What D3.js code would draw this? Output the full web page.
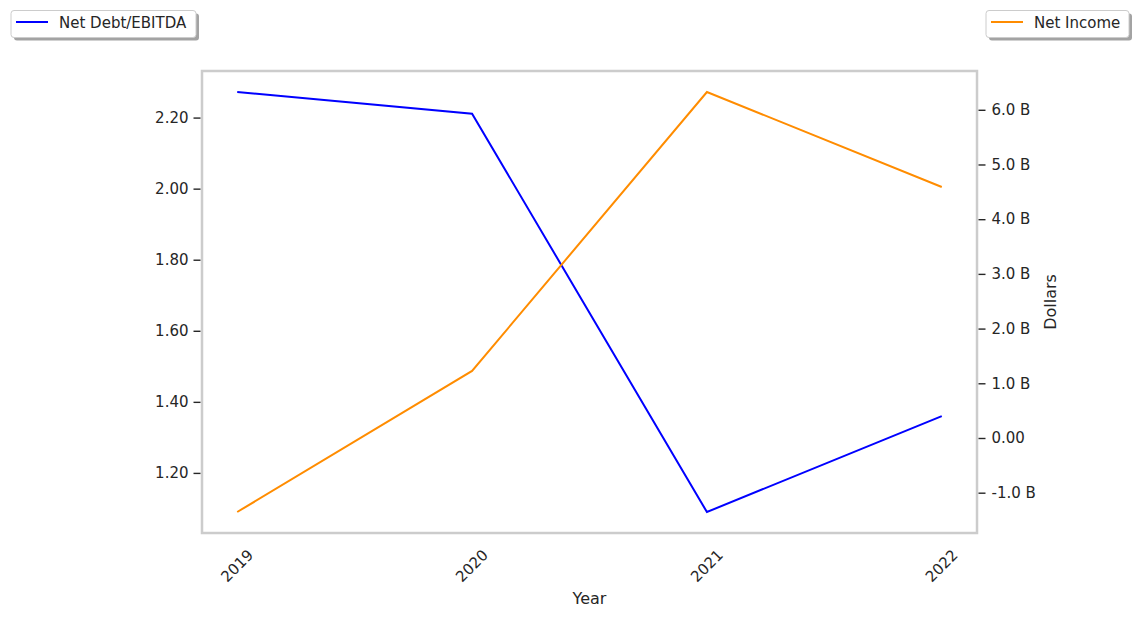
<!DOCTYPE html>
<html><head><meta charset="utf-8">
<script src="https://cdn.jsdelivr.net/npm/d3@7"></script>
<style>
body{margin:0;background:#fff;}
text{font-family:"DejaVu Sans",sans-serif;fill:#262626;}
</style></head>
<body><svg id="c" width="1138" height="618"></svg>
<script>
const years = ["2019","2020","2021","2022"];
const netDebtEbitda = [2.272, 2.211, 1.090, 1.360];
const netIncome = [-1.353e9, 1.225e9, 6.325e9, 4.589e9];
const leftTicks = [1.2, 1.4, 1.6, 1.8, 2.0, 2.2];
const rightTicks = [-1e9, 0, 1e9, 2e9, 3e9, 4e9, 5e9, 6e9];

const svg = d3.select("#c");
const L = 202, R = 977, T = 71, B = 533;
const FS = 15;

function padDomain(vals){
  const mn = d3.min(vals), mx = d3.max(vals), p = (mx-mn)*0.05;
  return [mn-p, mx+p];
}
const x = d3.scalePoint().domain(years).range([L, R]).padding(0.15);
const yL = d3.scaleLinear().domain(padDomain(netDebtEbitda)).range([B, T]);
const yR = d3.scaleLinear().domain(padDomain(netIncome)).range([B, T]);

// lines
const lineL = d3.line().x((d,i)=>x(years[i])).y(d=>yL(d));
const lineR = d3.line().x((d,i)=>x(years[i])).y(d=>yR(d));
svg.append("path").attr("d", lineL(netDebtEbitda)).attr("fill","none").attr("stroke","#0000ff").attr("stroke-width",2);
svg.append("path").attr("d", lineR(netIncome)).attr("fill","none").attr("stroke","#ff8c00").attr("stroke-width",2);

// frame
svg.append("rect").attr("x",L).attr("y",T).attr("width",R-L).attr("height",B-T)
  .attr("fill","none").attr("stroke","#cccccc").attr("stroke-width",2.5);

// left axis
const axL = svg.append("g").attr("transform",`translate(${L-1.5},0)`)
  .call(d3.axisLeft(yL).tickValues(leftTicks).tickFormat(d3.format(".2f")).tickSize(7).tickPadding(5));
axL.select(".domain").remove();
axL.selectAll("line").attr("stroke","#262626").attr("stroke-width",1.4);
axL.selectAll("text").attr("font-size",FS).attr("fill","#262626").style("font-family","DejaVu Sans");

// right axis
function fmtB(v){ return v===0 ? "0.00" : (v/1e9).toFixed(1)+" B"; }
const axR = svg.append("g").attr("transform",`translate(${R+1.5},0)`)
  .call(d3.axisRight(yR).tickValues(rightTicks).tickFormat(fmtB).tickSize(7).tickPadding(6));
axR.select(".domain").remove();
axR.selectAll("line").attr("stroke","#262626").attr("stroke-width",1.4);
axR.selectAll("text").attr("font-size",FS).attr("fill","#262626").style("font-family","DejaVu Sans");

// x tick labels rotated
const xg = svg.append("g");
years.forEach(yv=>{
  xg.append("text").attr("transform",`translate(${x(yv)},${566}) rotate(-45)`)
    .attr("text-anchor","middle").attr("dominant-baseline","central")
    .attr("font-size",FS).text(yv);
});

// axis titles
svg.append("text").attr("x",(L+R)/2).attr("y",604).attr("text-anchor","middle").attr("font-size",16).text("Year");
svg.append("text").attr("transform",`translate(1056,${(T+B)/2}) rotate(-90)`).attr("text-anchor","middle")
  .attr("font-size",16).text("Dollars");

// legends
function legend(x0, y0, w, color, label){
  const g = svg.append("g");
  g.append("rect").attr("x",x0+3).attr("y",y0+3).attr("width",w).attr("height",27).attr("rx",3)
    .attr("fill","#999").attr("opacity",0.9);
  g.append("rect").attr("x",x0).attr("y",y0).attr("width",w).attr("height",27).attr("rx",3)
    .attr("fill","#fff").attr("stroke","#cccccc").attr("stroke-width",1);
  g.append("line").attr("x1",x0+5).attr("x2",x0+37).attr("y1",y0+11.5).attr("y2",y0+11.5)
    .attr("stroke",color).attr("stroke-width",2);
  g.append("text").attr("x",x0+48).attr("y",y0+12).attr("dominant-baseline","central")
    .attr("font-size",FS).text(label);
}
legend(11, 10.5, 185, "#0000ff", "Net Debt/EBITDA");
legend(986, 10.5, 143, "#ff8c00", "Net Income");
</script></body></html>
